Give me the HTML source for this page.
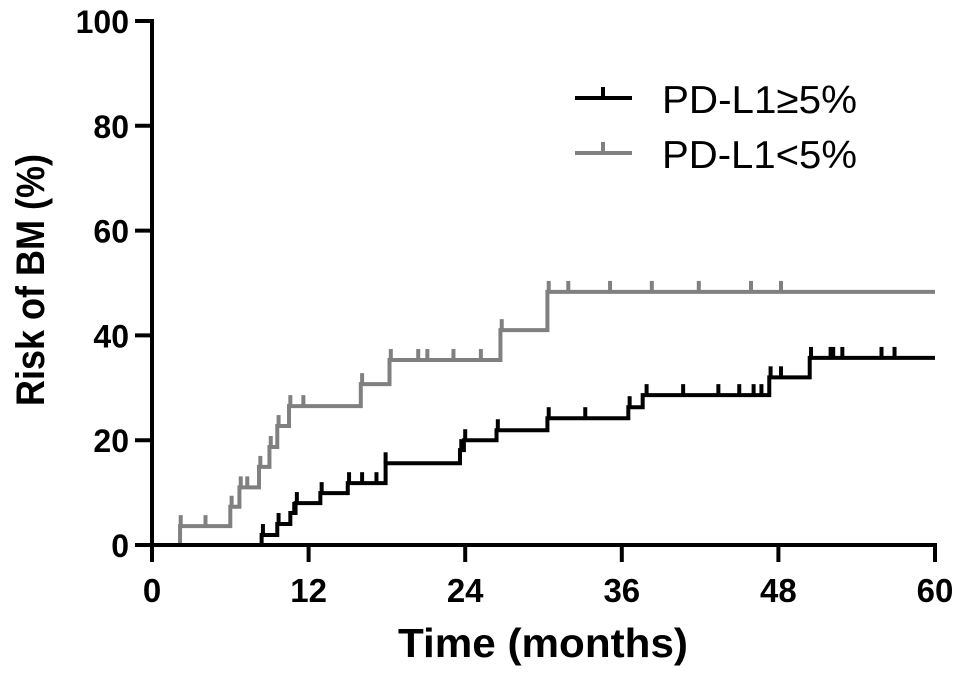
<!DOCTYPE html>
<html><head><meta charset="utf-8"><style>
html,body{margin:0;padding:0;background:#fff;}
svg{display:block;font-family:"Liberation Sans",Arial,sans-serif;}
</style></head><body>
<svg id="chart" width="965" height="680" viewBox="0 0 965 680" xmlns="http://www.w3.org/2000/svg">
<g id="axes"></g>
<g id="series"></g>
<g id="legend">
  <g>
    <line x1="575" y1="98" x2="632" y2="98" stroke="#000" stroke-width="4"/>
    <line x1="603" y1="87" x2="603" y2="98" stroke="#000" stroke-width="4"/>
    <text x="662" y="113" font-size="39" textLength="195" lengthAdjust="spacingAndGlyphs" fill="#000">PD-L1≥5%</text>
  </g>
  <g>
    <line x1="575" y1="153" x2="632" y2="153" stroke="#808080" stroke-width="4"/>
    <line x1="603" y1="142" x2="603" y2="153" stroke="#808080" stroke-width="4"/>
    <text x="662" y="168" font-size="39" textLength="195" lengthAdjust="spacingAndGlyphs" fill="#000">PD-L1&lt;5%</text>
  </g>
</g>
<text x="398" y="657" font-size="41" font-weight="bold" textLength="290" lengthAdjust="spacingAndGlyphs">Time (months)</text>
<text transform="translate(44,280) rotate(-90)" font-size="40" font-weight="bold" text-anchor="middle" textLength="252" lengthAdjust="spacingAndGlyphs">Risk of BM (%)</text>
</svg>
<script>
const xTicks = [0, 12, 24, 36, 48, 60];
const yTicks = [0, 20, 40, 60, 80, 100];
const highStepTimes = [8.4, 9.6, 10.6, 11.0, 12.9, 15.0, 17.9, 23.6, 23.9, 26.4, 30.3, 36.5, 37.6, 47.3, 50.4];
const highStepValues = [1.9, 4.0, 6.1, 8.0, 9.9, 11.8, 15.6, 18.1, 20.0, 21.9, 24.2, 26.3, 28.6, 32.0, 35.7];
const highCensorTimes = [8.5, 9.7, 10.9, 11.1, 13.0, 15.1, 16.1, 17.2, 17.9, 23.7, 24.0, 26.5, 30.4, 33.2, 36.6, 37.9, 40.7, 43.4, 45.0, 46.1, 46.7, 47.4, 48.2, 50.5, 52.0, 52.2, 52.9, 55.9, 56.9];
const lowStepTimes = [2.15, 6.0, 6.7, 8.2, 9.0, 9.6, 10.5, 16.0, 18.2, 26.7, 30.3];
const lowStepValues = [3.6, 7.3, 11.0, 14.9, 18.7, 22.7, 26.5, 30.7, 35.3, 41.0, 48.3];
const lowCensorTimes = [2.2, 4.1, 6.1, 6.8, 7.3, 8.3, 9.1, 9.7, 10.6, 11.6, 16.1, 18.3, 20.4, 21.1, 23.1, 25.2, 26.8, 30.4, 31.9, 35.1, 38.3, 41.9, 45.9, 48.2];
const tMax = 60;

const X0 = 152, X1 = 935, Y0 = 545, Y1 = 21;
function xs(t){ return X0 + (t/60)*(X1-X0); }
function ys(v){ return Y0 - (v/100)*(Y0-Y1); }
const NS = "http://www.w3.org/2000/svg";
function mk(tag, attrs, parent){
  const e = document.createElementNS(NS, tag);
  for (const k in attrs) e.setAttribute(k, attrs[k]);
  parent.appendChild(e);
  return e;
}
const axes = document.getElementById('axes');
const yAxis = mk('line', {x1:X0, y1:Y1-2, x2:X0, y2:Y0+2, stroke:'#000', 'stroke-width':4}, axes);


const xAxis = mk('line', {x1:X0-2, y1:Y0, x2:X1+2, y2:Y0, stroke:'#000', 'stroke-width':4}, axes);


yTicks.forEach(v => {
  const y = ys(v);
  const tk = mk('line', {x1:X0-17, y1:y, x2:X0, y2:y, stroke:'#000', 'stroke-width':4}, axes);
  
  
  const tx = mk('text', {x:X0-23, y:y+12, 'font-size':32, 'font-weight':'bold', 'text-anchor':'end'}, axes);
  tx.textContent = v;
  
  
});
xTicks.forEach(t => {
  const x = xs(t);
  const tk = mk('line', {x1:x, y1:Y0, x2:x, y2:Y0+17, stroke:'#000', 'stroke-width':4}, axes);
  
  
  const tx = mk('text', {x:x, y:602, 'font-size':33, 'font-weight':'bold', 'text-anchor':'middle'}, axes);
  tx.textContent = t;
  
  
});
function valueAt(times, vals, t){
  let v = 0;
  for (let i=0;i<times.length;i++){ if (times[i] <= t) v = vals[i]; }
  return v;
}
const series = document.getElementById('series');
function drawCurve(times, vals, censors, color, name){
  let d = 'M' + xs(0) + ',' + ys(0);
  for (let i=0;i<times.length;i++){
    d += ' H' + xs(times[i]) + ' V' + ys(vals[i]);
  }
  d += ' H' + xs(tMax);
  const p = mk('path', {d:d, fill:'none', stroke:color, 'stroke-width':4}, series);
  
  
  censors.forEach(t => {
    const v = valueAt(times, vals, t);
    const c = mk('line', {x1:xs(t), y1:ys(v), x2:xs(t), y2:ys(v)-11, stroke:color, 'stroke-width':4}, series);
    
    
  });
}
drawCurve(lowStepTimes, lowStepValues, lowCensorTimes, '#808080', 'pd-l1-low');
drawCurve(highStepTimes, highStepValues, highCensorTimes, '#000', 'pd-l1-high');
</script>
</body></html>
